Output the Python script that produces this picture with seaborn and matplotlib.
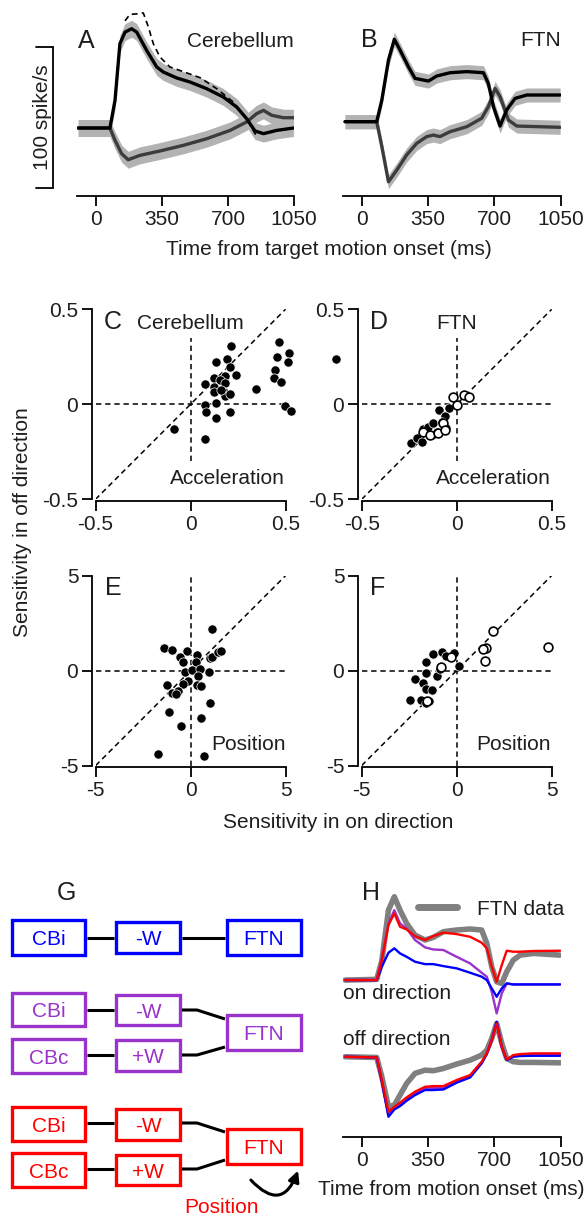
import numpy as np
import pandas as pd
import matplotlib
matplotlib.use("Agg")
import matplotlib.pyplot as plt
import seaborn as sns
from matplotlib.patches import Rectangle, FancyArrowPatch
from matplotlib.lines import Line2D

# ---------------- data ----------------
# Panel A: cerebellum, change in firing rate (spike/s) vs time from target motion onset (ms)
a_on_t = [-94, 74, 101, 127, 154, 189, 216, 269, 322, 357, 428, 499, 587, 675, 746, 799, 843, 888, 958, 1047]
a_on_v = [0, 0, 19.6, 59.8, 68, 70.4, 68, 55, 43.3, 39.7, 35.5, 32.6, 27.9, 22, 14.9, 6.6, -2.1, -4, -1.7, 0]
a_fit_t = [154, 180, 225, 251, 278, 304, 339, 392, 454, 552, 640, 728, 799, 843, 861]
a_fit_v = [76, 80.6, 81, 81.6, 71.6, 59.8, 50.4, 43.3, 40.4, 35.7, 27.9, 18.4, 6.6, -4, -6.4]
a_off_t = [-94, 74, 101, 136, 171, 233, 339, 463, 587, 711, 799, 852, 888, 932, 994, 1047]
a_off_v = [0, 0, -8.7, -18.2, -22.5, -19.4, -16.3, -12.3, -7.6, -1.7, 4.3, 10.2, 12.5, 9, 7.3, 7.3]
a_sem = 6.0

# Panel B: FTN
b_on_t = [-88, 79, 106, 141, 172, 202, 246, 281, 352, 396, 466, 554, 642, 668, 695, 730, 765, 809, 871, 1047]
b_on_v = [4.5, 4.5, 19.9, 48.2, 62.9, 55.3, 43.5, 35.2, 33.3, 36.9, 39.2, 40, 39.2, 31.7, 15.1, 1.4, 12.8, 21, 23.4, 23.4]
b_off_t = [-88, 79, 106, 141, 185, 237, 290, 343, 378, 413, 466, 554, 633, 668, 704, 730, 774, 818, 1047]
b_off_v = [4.5, 4.5, -13.2, -38.1, -29.8, -19.1, -10.9, -6.1, -5, -6.1, -2.6, 0.9, 6.9, 15.1, 28.1, 22.2, 5.7, 1.4, 0.5]
b_sem = 5.0

# Panel C: cerebellum acceleration sensitivity (on, off)
c_on = [0.211, 0.465, 0.518, 0.453, 0.512, 0.447, 0.442, 0.477, 0.135, 0.193, 0.207, 0.242, 0.184,
        0.126, 0.154, 0.181, 0.074, 0.123, 0.126, 0.175, 0.181, 0.207, 0.344, 0.075, 0.135, 0.079,
        0.135, 0.207, -0.088, 0.075, 0.496, 0.530, 0.160]
c_off = [0.307, 0.330, 0.272, 0.251, 0.225, 0.181, 0.137, 0.119, 0.221, 0.237, 0.198, 0.154, 0.149,
         0.137, 0.128, 0.114, 0.105, 0.089, 0.067, 0.067, 0.044, 0.053, 0.079, -0.005, 0.005, -0.040,
         -0.070, -0.042, -0.132, -0.182, -0.009, -0.033, 0.075]

# Panel D: FTN acceleration sensitivity (filled and open symbols)
d_on_f = [-0.637, -0.242, -0.211, -0.184, -0.175, -0.149, -0.123, -0.091, -0.061, -0.056, -0.039, -0.105, -0.132, -0.079]
d_off_f = [0.239, -0.205, -0.179, -0.196, -0.132, -0.121, -0.100, -0.030, -0.061, -0.126, -0.021, -0.144, -0.161, -0.091]
d_on_o = [-0.018, 0.0, 0.039, 0.067, -0.070, -0.175, -0.140, -0.096, -0.061]
d_off_o = [0.037, -0.004, 0.049, 0.040, -0.100, -0.144, -0.161, -0.153, -0.135]

# Panel E: cerebellum position sensitivity
e_on = [1.14, -1.42, -1.0, -0.21, -0.56, 0.32, -0.42, 0.28, 1.02, 1.12, 1.46, 1.60, -0.30, 0.09, 0.49,
        0.96, 0.40, -0.12, -0.39, -1.23, 0.32, 0.53, -1.0, -0.65, -0.77, -1.12, 1.02, 0.54, -0.53, -1.72, 0.72]
e_off = [2.21, 1.19, 1.07, 1.02, 0.72, 0.81, 0.44, 0.44, 0.67, 0.70, 0.96, 1.05, -0.09, 0.05, 0.09,
         -0.09, -0.30, -0.56, -0.70, -0.74, -0.77, -0.82, -1.18, -1.09, -1.26, -2.18, -1.70, -2.51, -2.93, -4.39, -4.51]

# Panel F: FTN position sensitivity
f_on_f = [-2.47, -2.19, -1.77, -1.60, -1.28, -1.89, -1.63, -1.46, -1.60, -1.60, -1.23, -1.02, -0.88, -0.75, -0.58, -0.26, -0.14, 0.12]
f_off_f = [-1.56, -0.47, -0.68, -0.95, -1.05, -1.53, -1.70, -1.61, -0.12, 0.44, 0.89, -0.30, 0.09, 0.96, 0.75, 0.75, 0.93, 0.26]
f_on_o = [-0.84, -0.32, 1.53, 1.91, 1.49, 4.82, 1.39, -1.54]
f_off_o = [0.19, 0.70, 1.19, 2.07, 0.49, 1.25, 1.11, -1.61]

# Panel H: model vs FTN data (spike/s re baseline)
h_t = [-88, 79, 106, 141, 172, 202, 237, 281, 334, 378, 431, 501, 572, 633, 660, 686, 712, 739, 765, 800, 836, 906, 1047]
h_on_data = [0, 0.5, 13.7, 49.6, 59.1, 49.6, 40.2, 31.9, 28.4, 30.3, 34.3, 35.5, 36.2, 35.5, 26.0, 9.5, -1.2, -2.4, 5.9, 14.2, 17.7, 18.9, 17.7]
h_on_red = [0, 0, 14.2, 39.0, 47.3, 37.8, 35.9, 31.2, 28.4, 31.2, 33.6, 32.6, 30.7, 26.5, 22.5, 9.5, -1.2, 10.6, 20.8, 20.1, 20.1, 20.6, 20.8]
h_on_purple = [0, 0, 15.4, 40.2, 49.6, 40.2, 36.6, 28.4, 23.2, 21.7, 21.3, 16.5, 11.8, 5.2, 2.4, -8.3, -23.6, -9.5, -2.4, -3.1, -3.1, -3.1, -3.1]
h_on_blue = [0, 0, 9.5, 19.4, 22.5, 18.9, 16.5, 13.0, 11.3, 11.3, 9.9, 8.3, 5.2, 2.4, 0, -5.9, -11.8, -5.9, -2.4, -3.1, -3.1, -3.1, -3.1]
h_off_data = [0, -0.5, -14.2, -35.5, -34.3, -27.2, -18.9, -11.8, -9.5, -9.9, -8.3, -5.2, -2.4, 1.2, 4.7, 13.0, 23.6, 9.5, -1.2, -3.5, -4.0, -4.0, -4.3]
h_off_red = [0, -0.5, -16.5, -39.0, -35.5, -32.6, -28.8, -24.8, -21.3, -20.8, -20.8, -16.5, -13.0, -3.5, 2.4, 11.8, 23.6, 7.1, -1.9, 1.2, 1.9, 2.4, 2.4]
h_off_purple = [0, -0.5, -17.0, -41.5, -36.5, -34.0, -30.0, -26.0, -22.5, -22.2, -22.0, -17.5, -14.0, -4.0, 2.0, 11.8, 24.2, 7.1, -2.2, 0.5, 1.0, 1.5, 1.5]
h_off_blue = [0, -0.5, -17.7, -42.6, -37.4, -35.0, -31.2, -27.2, -23.6, -23.6, -23.2, -18.4, -14.7, -4.7, 1.9, 11.8, 24.8, 7.1, -2.4, 0, 0.5, 0.7, 0.7]
h_off_shift = -54.4

time_ticks = [0, 350, 700, 1050]
acc_ticks = [-0.5, 0, 0.5]
acc_labels = ["-0.5", "0", "0.5"]
pos_ticks = [-5, 0, 5]
pos_labels = ["-5", "0", "5"]

# ---------------- style ----------------
sns.set_style("ticks")
plt.rcParams['font.family'] = ['Liberation Sans', 'DejaVu Sans']
plt.rcParams['font.size'] = 15
TXT = '#1e1e1e'
BLUE = '#0000FF'
PURPLE = '#9933CC'
RED = '#FF0000'
FS = 15
LFS = 18

W, H = 586, 1219
fig = plt.figure(figsize=(W / 100, H / 100), dpi=100)


def px_axes(l, t, r, b, **kw):
    return fig.add_axes([l / W, 1 - b / H, (r - l) / W, (b - t) / H], **kw)


def style_time(ax):
    ax.set_xlim(-100, 1050)
    ax.set_xticks(time_ticks)
    for s in ['left', 'right', 'top']:
        ax.spines[s].set_visible(False)
    ax.spines['bottom'].set_linewidth(1.3)
    ax.spines['bottom'].set_color('k')
    ax.set_yticks([])
    ax.tick_params(axis='x', length=7, width=1.3, pad=3, labelsize=FS, labelcolor=TXT, color='k')
    ax.set_xlabel('')
    ax.set_ylabel('')
    ax.patch.set_alpha(0)


def trace(ax, t, v, color, lw, sem=None, ls='-', z=3):
    if sem is not None:
        v_arr = np.asarray(v)
        ax.fill_between(t, v_arr - sem, v_arr + sem, color='#b3b3b3', lw=0, zorder=1)
    sns.lineplot(x=t, y=v, ax=ax, color=color, lw=lw, linestyle=ls, sort=False, zorder=z)


# Panel A
axA = px_axes(77.1, 8.15, 294, 195.7)
axA.set_ylim(-48, 85)
trace(axA, a_on_t, a_on_v, 'black', 2.4, sem=a_sem, z=4)
trace(axA, a_off_t, a_off_v, '#3c3c3c', 2.4, sem=a_sem, z=3)
sns.lineplot(x=a_fit_t, y=a_fit_v, ax=axA, color='black', lw=1.2, linestyle=(0, (3.5, 2.5)), sort=False, zorder=5)
style_time(axA)
axA.set_ylim(-48, 85)
# scale bar 100 spike/s
xb, xb2 = -227, -317
axA.plot([xb, xb], [-42.6, 57.4], color='k', lw=1.3, clip_on=False)
axA.plot([xb2, xb], [-42.6, -42.6], color='k', lw=1.3, clip_on=False)
axA.plot([xb2, xb], [57.4, 57.4], color='k', lw=1.3, clip_on=False)

# Panel B
axB = px_axes(342.8, 8.15, 560.7, 195.7)
trace(axB, b_on_t, b_on_v, 'black', 2.4, sem=b_sem, z=4)
trace(axB, b_off_t, b_off_v, '#3c3c3c', 2.4, sem=b_sem, z=3)
style_time(axB)
axB.set_ylim(-48, 85)


def style_scatter(ax, lim, ticks, labels, vfull):
    dash = (0, (3.5, 2.5))
    ax.plot([-lim, lim], [-lim, lim], color='k', lw=1.1, ls=dash, zorder=1)
    ax.plot([-lim, lim], [0, 0], color='k', lw=1.1, ls=dash, zorder=1)
    if vfull:
        ax.plot([0, 0], [-lim, lim], color='k', lw=1.1, ls=dash, zorder=1)
    else:
        ax.plot([0, 0], [-0.6 * lim, 0.7 * lim], color='k', lw=1.1, ls=dash, zorder=1)
    ax.set_xlim(-lim, lim)
    ax.set_ylim(-lim, lim)
    ax.set_xticks(ticks)
    ax.set_yticks(ticks)
    ax.set_xticklabels(labels)
    ax.set_yticklabels(labels)
    for s in ['right', 'top']:
        ax.spines[s].set_visible(False)
    for s in ['left', 'bottom']:
        ax.spines[s].set_linewidth(1.3)
        ax.spines[s].set_color('k')
    ax.spines['left'].set_position(('outward', 2.5))
    ax.spines['bottom'].set_position(('outward', 1))
    ax.tick_params(length=7, width=1.3, pad=3, labelsize=FS, labelcolor=TXT, color='k')
    ax.set_xlabel('')
    ax.set_ylabel('')
    ax.patch.set_alpha(0)


def dots(ax, x, y, filled=True):
    if filled:
        sns.scatterplot(x=x, y=y, ax=ax, s=44, color='black', edgecolor='white', linewidth=0.5, zorder=3)
    else:
        sns.scatterplot(x=x, y=y, ax=ax, s=40, color='white', edgecolor='black', linewidth=1.2, zorder=4)
    for c in ax.collections:
        c.set_clip_on(False)


axC = px_axes(95.5, 309.3, 285.5, 499.3)
dots(axC, c_on, c_off)
style_scatter(axC, 0.5, acc_ticks, acc_labels, False)

axD = px_axes(361.7, 309.3, 551.7, 499.3)
dots(axD, d_on_f, d_off_f)
dots(axD, d_on_o, d_off_o, filled=False)
style_scatter(axD, 0.5, acc_ticks, acc_labels, False)

axE = px_axes(95.7, 575.5, 285.7, 765.5)
dots(axE, e_on, e_off)
style_scatter(axE, 5, pos_ticks, pos_labels, True)

axF = px_axes(361.7, 575.5, 551.7, 765.5)
dots(axF, f_on_f, f_off_f)
dots(axF, f_on_o, f_off_o, filled=False)
style_scatter(axF, 5, pos_ticks, pos_labels, True)

# Panel H
axH = px_axes(342.8, 880.1, 560.7, 1136.7)
off = np.asarray
sns.lineplot(x=h_t, y=h_on_data, ax=axH, color='#808080', lw=4, sort=False, zorder=2)
sns.lineplot(x=h_t, y=off(h_off_data) + h_off_shift, ax=axH, color='#808080', lw=4, sort=False, zorder=2)
sns.lineplot(x=h_t, y=h_on_purple, ax=axH, color=PURPLE, lw=1.7, sort=False, zorder=3)
sns.lineplot(x=h_t, y=off(h_off_purple) + h_off_shift, ax=axH, color=PURPLE, lw=1.7, sort=False, zorder=3)
sns.lineplot(x=h_t, y=h_on_blue, ax=axH, color=BLUE, lw=1.7, sort=False, zorder=4)
sns.lineplot(x=h_t, y=off(h_off_blue) + h_off_shift, ax=axH, color=BLUE, lw=1.7, sort=False, zorder=4)
sns.lineplot(x=h_t, y=h_on_red, ax=axH, color=RED, lw=1.7, sort=False, zorder=5)
sns.lineplot(x=h_t, y=off(h_off_red) + h_off_shift, ax=axH, color=RED, lw=1.7, sort=False, zorder=5)
style_time(axH)
axH.set_ylim(-111.1, 70.9)
leg = axH.legend(handles=[Line2D([], [], color='#808080', lw=5)], labels=['FTN data'],
                 loc='center left', bbox_to_anchor=(0.344, 0.887), frameon=False,
                 borderpad=0, borderaxespad=0, handlelength=1.87, handletextpad=0.96,
                 fontsize=FS)
for tx in leg.get_texts():
    tx.set_color(TXT)

# ---------------- overlay (text + diagram) in pixel coordinates ----------------
ov = fig.add_axes([0, 0, 1, 1], zorder=10)
ov.set_xlim(0, W)
ov.set_ylim(H, 0)
ov.axis('off')
ov.patch.set_alpha(0)


def t(x, y, s, size=FS, ha='left', va='baseline', color=TXT, **kw):
    ov.text(x, y, s, fontsize=size, ha=ha, va=va, color=color, **kw)


# letters
t(78, 48.3, 'A', LFS)
t(361, 46.7, 'B', LFS)
t(104, 329.3, 'C', LFS)
t(370, 329.3, 'D', LFS)
t(105, 595, 'E', LFS)
t(370, 595, 'F', LFS)
t(57, 900, 'G', LFS)
t(362, 900, 'H', LFS)

# panel titles / labels
t(240, 46.7, 'Cerebellum', ha='center')
t(541, 45.7, 'FTN', ha='center')
t(42, 117, '100 spike/s', ha='center', va='center', rotation=90)
t(329, 255, 'Time from target motion onset (ms)', ha='center')
t(190, 329.3, 'Cerebellum', ha='center')
t(456.7, 329.3, 'FTN', ha='center')
t(227.5, 484.3, 'Acceleration', ha='center')
t(493.5, 484.3, 'Acceleration', ha='center')
t(248.3, 750, 'Position', ha='center')
t(514, 750, 'Position', ha='center')
t(23, 522, 'Sensitivity in off direction', ha='center', va='center', rotation=90)
t(338, 828, 'Sensitivity in on direction', ha='center')
t(343, 999.3, 'on direction')
t(343, 1045, 'off direction')
t(451.7, 1195, 'Time from motion onset (ms)', ha='center')

# diagram G
box_lw = 2.4
line_lw = 2.2


def box(x0, y0, x1, y1, label, color):
    ov.add_patch(Rectangle((x0 + 1.7, y0 + 1.7), (x1 - x0) - 3.4, (y1 - y0) - 3.4,
                           fill=False, ec=color, lw=box_lw))
    t((x0 + x1) / 2, (y0 + y1) / 2 + 7.5, label, ha='center', color=color)


def wire(xs, ys):
    ov.plot(xs, ys, color='k', lw=line_lw, solid_capstyle='butt', zorder=1)


# row 1
box(10, 918, 87, 957, 'CBi', BLUE)
box(114, 920, 182, 955, '-W', BLUE)
box(225, 918, 303, 957, 'FTN', BLUE)
wire([87, 114], [938, 938])
wire([182, 225], [938, 938])
# row 2
box(10, 991, 87, 1028, 'CBi', PURPLE)
box(114, 993, 182, 1027, '-W', PURPLE)
box(10, 1037, 87, 1075, 'CBc', PURPLE)
box(114, 1038, 182, 1073, '+W', PURPLE)
box(225, 1013, 303, 1052, 'FTN', PURPLE)
wire([87, 114], [1010, 1010])
wire([182, 197, 225], [1010, 1010, 1019])
wire([87, 114], [1055, 1055])
wire([182, 197, 225], [1055, 1055, 1047])
# row 3
box(10, 1105, 87, 1143, 'CBi', RED)
box(114, 1107, 182, 1142, '-W', RED)
box(10, 1151, 87, 1189, 'CBc', RED)
box(114, 1153, 182, 1187, '+W', RED)
box(225, 1127, 303, 1166, 'FTN', RED)
wire([87, 114], [1123, 1123])
wire([182, 197, 225], [1123, 1123, 1132])
wire([87, 114], [1169, 1169])
wire([182, 197, 225], [1169, 1169, 1160])
arr = FancyArrowPatch((249, 1178), (299, 1168), connectionstyle='arc3,rad=0.85',
                      arrowstyle='-|>', mutation_scale=16, lw=2.2, color='k')
ov.add_patch(arr)
t(222, 1213, 'Position', ha='center', color=RED)

fig.savefig('out.png', dpi=100)
